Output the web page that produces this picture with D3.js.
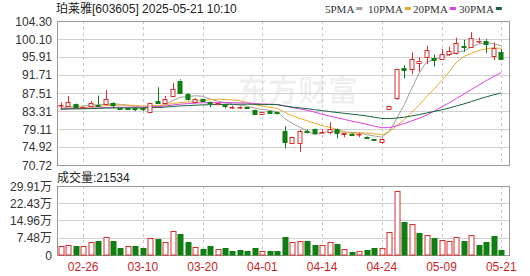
<!DOCTYPE html>
<html>
<head>
  <meta charset="utf-8">
  <title>珀莱雅 K线</title>
  <script src="https://d3js.org/d3.v7.min.js"></script>
  <style>
    body { margin: 0; background: #fff; }
    text { font-family: "Liberation Sans", "Noto Sans CJK SC", sans-serif; }
  </style>
</head>
<body>
  <div id="chart"></div>
  <script>
    // trading days shown
    const dates = ["02-21","02-24","02-25","02-26","02-27","02-28",
      "03-03","03-04","03-05","03-06","03-07","03-10","03-11","03-12","03-13","03-14","03-17","03-18","03-19","03-20","03-21","03-24","03-25","03-26","03-27","03-28","03-31",
      "04-01","04-02","04-03","04-07","04-08","04-09","04-10","04-11","04-14","04-15","04-16","04-17","04-18","04-21","04-22","04-23","04-24","04-25","04-28","04-29","04-30",
      "05-06","05-07","05-08","05-09","05-12","05-13","05-14","05-15","05-16","05-19","05-20","05-21"];

    const open = [84.6,84.55,85.0,84.2,84.5,84.75,84.9,85.2,84.1,84.0, 84.0,84.1,83.15,85.6,85.1,86.8,90.4,87.3,85.5,86.05,
      85.4,84.9,84.9,84.15,84.15,84.2,83.55,82.7,83.4,83.0, 78.65,75.9,75.9,78.7,79.2,78.3,78.35,79.1,77.95,78.0,
      77.9,77.3,76.85,76.15,83.8,86.4,93.3,93.1,94.6,96.0, 95.75,95.4,96.5,96.8,98.45,98.3,99.65,99.7,96.2,97.0];
    const high = [85.3,86.8,85.1,84.4,85.6,86.9,88.2,85.4,84.2,84.1, 84.1,84.2,85.3,88.85,86.8,89.8,90.7,87.5,86.3,86.2,
      85.5,85.2,85.0,84.6,84.4,84.3,83.6,83.2,83.5,83.1, 79.8,77.3,78.9,79.05,79.3,79.05,80.7,79.2,78.2,78.1,
      78.25,77.4,76.9,77.0,84.6,93.1,94.0,97.0,95.8,98.5, 96.5,97.8,98.3,100.4,99.9,101.7,100.4,100.1,99.3,97.8];
    const low = [83.95,84.4,84.2,84.1,84.4,84.4,84.7,83.95,83.55,83.55, 83.3,83.3,83.1,85.0,85.0,86.6,87.5,85.7,85.4,85.5,
      84.2,84.8,83.95,83.8,83.8,83.8,82.6,82.6,82.8,82.5, 74.6,75.8,73.8,78.1,78.2,77.95,77.9,76.95,77.2,77.7,
      77.2,76.9,76.4,75.6,83.75,85.9,90.9,91.9,92.5,94.2, 93.65,95.2,96.2,96.5,97.1,98.1,99.1,96.8,95.2,95.3];
    const close = [84.7,85.35,84.3,84.3,85.2,84.55,86.05,84.7,83.85,83.8, 83.85,83.75,85.25,85.15,86.2,88.4,87.6,86.05,86.05,85.65,
      85.2,85.1,84.5,84.25,84.25,84.05,82.7,83.15,82.95,82.75, 76.15,77.2,78.65,78.5,78.25,78.45,79.05,78.1,78.1,77.8,
      78.0,76.95,76.5,76.85,84.55,93.0,92.95,95.35,95.0,97.5, 95.3,96.5,97.3,99.1,98.15,100.4,99.75,98.9,97.9,95.4];

    const ma5 = [83.9,84.23,84.35,84.47,84.77,84.74,84.88,84.96,84.87,84.59, 84.45,83.99,84.1,84.36,84.84,85.75,86.52,86.68,86.86,86.75,
      86.11,85.61,85.3,84.94,84.66,84.43,83.95,83.68,83.42,83.12, 81.54,80.44,79.54,78.65,77.75,78.21,78.58,78.47,78.39,78.3,
      78.21,77.79,77.47,77.22,78.57,81.57,84.77,88.54,92.17,94.76, 95.22,95.93,96.32,97.14,97.27,98.29,98.94,99.26,99.02,98.47];
    const ma10 = [83.8,83.97,84.03,84.09,84.24,84.32,84.56,84.66,84.67,84.68, 84.6,84.44,84.53,84.62,84.72,85.1,85.26,85.39,85.61,85.8,
      85.93,86.07,85.99,85.9,85.71,85.27,84.78,84.49,84.18,83.89, 82.99,82.2,81.61,81.04,80.44,79.88,79.51,79.01,78.52,78.03,
      78.21,78.19,77.97,77.81,78.44,79.89,81.28,83.01,84.7,86.67, 88.4,90.35,92.43,94.66,96.02,96.76,97.44,97.79,98.08,97.87];
    const ma20 = [83.75,83.83,83.86,83.89,83.97,84.01,84.13,84.18,84.19,84.19, 84.2,84.2,84.28,84.35,84.48,84.71,84.91,85.02,85.14,85.24,
      85.26,85.25,85.26,85.26,85.21,85.19,85.02,84.94,84.9,84.84, 84.46,84.13,83.8,83.47,83.07,82.57,82.15,81.75,81.35,80.96,
      80.6,80.19,79.79,79.42,79.44,79.88,80.4,81.01,81.61,82.35, 83.3,84.27,85.2,86.23,87.23,88.32,89.36,90.4,91.39,92.27];
    const ma30 = [83.73,83.79,83.81,83.83,83.88,83.91,83.99,84.02,84.02,84.03, 84.03,84.03,84.09,84.13,84.22,84.37,84.5,84.58,84.66,84.73,
      84.78,84.82,84.85,84.87,84.89,84.9,84.86,84.85,84.82,84.79, 84.5,84.23,84.04,83.85,83.62,83.42,83.18,82.96,82.77,82.57,
      82.38,82.15,81.86,81.58,81.53,81.68,81.86,82.17,82.47,82.86, 83.2,83.58,84.0,84.5,84.96,85.51,86.08,86.6,87.1,87.52];

    // volume in 万, 1 = red (up) bar, 0 = green
    const volume = [3.9,4.2,3.9,3.9,5.6,6.2,7.7,6.2,3.0,3.9, 3.9,3.0,7.2,6.9,5.6,10.4,9.1,5.6,3.3,2.6,
      3.9,2.6,3.0,1.7,2.2,1.7,3.0,1.7,1.7,1.7, 7.9,5.6,6.1,6.1,4.3,4.3,5.6,4.8,2.6,1.3,
      1.7,2.2,3.0,3.0,10.0,27.7,14.3,13.3,9.7,8.5, 7.4,6.5,6.1,7.7,6.1,8.5,4.2,5.6,8.2,2.15];
    const volUp = [1,1,0,1,1,0,1,0,0,1, 0,0,1,0,1,1,0,0,1,0, 0,1,0,0,0,0,0,1,0,0,
      0,1,1,0,0,1,1,0,1,0, 1,0,0,1,1,1,0,1,0,1, 0,1,1,1,0,1,0,0,0,0];

    const priceTicks = [70.72,74.92,79.11,83.31,87.51,91.71,95.91,100.10,104.30];
    const volTicks = [0,7.48,14.96,22.43,29.91];
    const dateTicks = ["02-26","03-10","03-20","04-01","04-14","04-24","05-09","05-21"];

    const maNames = ["5PMA","10PMA","20PMA","30PMA"];
    const maColors = ["#a0a0a0","#eca82a","#e43ce4","#15653a"];
    const maSeries = [ma5, ma10, ma20, ma30];

    const W = 530, H = 276;
    const left = 57, right = 509;
    const pTop = 21, pBot = 165, vTop = 186, vBot = 255;
    const red = "#dd2a2a", green = "#0f7f12";

    const svg = d3.select("#chart").append("svg")
      .attr("width", W).attr("height", H);

    const x = d3.scaleBand().domain(dates).range([left, 505]);
    const cx = d => x(d) + x.bandwidth() / 2;
    const y = d3.scaleLinear().domain([70.72, 104.30]).range([pBot, pTop]);
    const yv = d3.scaleLinear().domain([0, 29.91]).range([vBot, vTop]);

    // watermark
    svg.append("text")
      .attr("x", 238).attr("y", 101)
      .style("font-family", "Noto Sans CJK SC")
      .style("font-size", "30px").style("font-weight", "bold")
      .attr("fill", "#000").attr("fill-opacity", 0.06)
      .text("东方财富");

    // grids
    const grid = svg.append("g");
    grid.selectAll(".hp").data(priceTicks).enter().append("line")
      .attr("x1", left).attr("x2", right)
      .attr("y1", d => Math.round(y(d)) + 0.5).attr("y2", d => Math.round(y(d)) + 0.5)
      .attr("stroke", "#d0d0d0");
    grid.selectAll(".hv").data(volTicks).enter().append("line")
      .attr("x1", left).attr("x2", right)
      .attr("y1", d => Math.round(yv(d)) + 0.5).attr("y2", d => Math.round(yv(d)) + 0.5)
      .attr("stroke", "#d0d0d0");
    dateTicks.forEach(dt => {
      [[pTop, pBot], [vTop, vBot]].forEach(r => {
        grid.append("line")
          .attr("x1", Math.round(cx(dt)) + 0.5).attr("x2", Math.round(cx(dt)) + 0.5)
          .attr("y1", r[0]).attr("y2", r[1])
          .attr("stroke", "#c8c8c8").attr("stroke-dasharray", "3,3");
      });
    });

    // frames
    svg.append("rect").attr("x", left + 0.5).attr("y", pTop + 0.5)
      .attr("width", right - left).attr("height", pBot - pTop)
      .attr("fill", "none").attr("stroke", "#999");
    svg.append("rect").attr("x", left + 0.5).attr("y", vTop + 0.5)
      .attr("width", right - left).attr("height", vBot - vTop)
      .attr("fill", "none").attr("stroke", "#999");

    // MA lines
    maSeries.forEach((s, k) => {
      svg.append("path")
        .datum(s)
        .attr("fill", "none")
        .attr("stroke", maColors[k])
        .attr("stroke-width", 1)
        .attr("d", d3.line().x((d, i) => cx(dates[i])).y(d => y(d)));
    });

    // candles
    const bw = 5;
    const candles = svg.selectAll(".candle").data(dates).enter().append("g");
    candles.each(function(d, i) {
      const g = d3.select(this);
      const up = close[i] >= open[i];
      const col = up ? red : green;
      const xc = Math.round(cx(d)) + 0.5;
      const top = y(Math.max(open[i], close[i]));
      const bot = y(Math.min(open[i], close[i]));
      g.append("line").attr("x1", xc).attr("x2", xc)
        .attr("y1", y(high[i])).attr("y2", top).attr("stroke", col);
      g.append("line").attr("x1", xc).attr("x2", xc)
        .attr("y1", bot).attr("y2", y(low[i])).attr("stroke", col);
      g.append("rect")
        .attr("x", xc - bw / 2 - 0.5 + 0.5).attr("y", Math.round(top) + 0.5)
        .attr("width", bw - 1)
        .attr("height", Math.max(0.5, Math.round(bot) - Math.round(top)))
        .attr("fill", up ? "#fff" : green)
        .attr("stroke", col);
    });

    // volume bars
    svg.selectAll(".vol").data(dates).enter().append("rect")
      .attr("x", d => Math.round(cx(d)) - 2)
      .attr("y", (d, i) => Math.round(yv(volume[i])) + 0.5)
      .attr("width", 5)
      .attr("height", (d, i) => vBot - Math.round(yv(volume[i])) - 0.5)
      .attr("fill", (d, i) => volUp[i] ? "#fff" : green)
      .attr("stroke", (d, i) => volUp[i] ? red : green);

    // y labels
    svg.selectAll(".pl").data(priceTicks).enter().append("text")
      .attr("x", 52).attr("y", d => y(d) + 4.5)
      .attr("text-anchor", "end")
      .style("font-size", "12px").attr("fill", "#333")
      .text(d => d.toFixed(2));
    svg.selectAll(".vl").data(volTicks).enter().append("text")
      .attr("x", 52).attr("y", d => yv(d) + 4.5)
      .attr("text-anchor", "end")
      .style("font-size", "12px").attr("fill", "#333")
      .text(d => d === 0 ? "0" : d.toFixed(2) + "万");

    // date labels
    svg.selectAll(".dl").data(dateTicks).enter().append("text")
      .attr("x", d => cx(d)).attr("y", 271)
      .attr("text-anchor", "middle")
      .style("font-size", "12px").attr("fill", "#cc1f1f")
      .text(d => d);

    // title + volume caption
    svg.append("text").attr("x", 56).attr("y", 13)
      .style("font-size", "12px").attr("fill", "#222")
      .text("珀莱雅[603605] 2025-05-21 10:10");
    svg.append("text").attr("x", 57).attr("y", 182)
      .style("font-size", "12px").attr("fill", "#222")
      .text("成交量:21534");

    // legend
    const legX = [325, 368, 413, 459];
    maNames.forEach((n, k) => {
      const t = svg.append("text").attr("x", legX[k]).attr("y", 13)
        .style("font-family", "Liberation Serif").style("font-size", "11px")
        .attr("fill", "#333").text(n);
      const w = t.node().getComputedTextLength();
      svg.append("rect").attr("x", legX[k] + w + 2).attr("y", 7)
        .attr("width", 6).attr("height", 3).attr("fill", maColors[k]);
    });
  </script>
</body>
</html>
